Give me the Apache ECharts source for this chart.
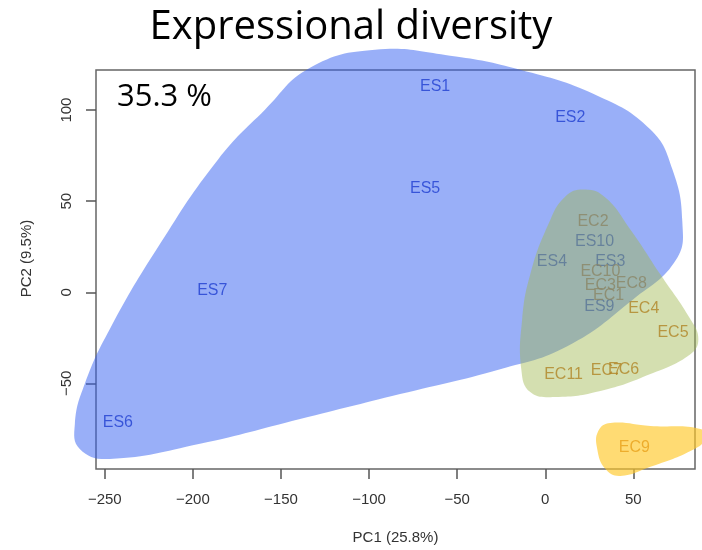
<!DOCTYPE html>
<html>
<head>
<meta charset="utf-8">
<script src="https://cdn.jsdelivr.net/npm/echarts@6/dist/echarts.min.js"></script>
<style>
  html, body { margin: 0; padding: 0; background: #fff; }
  #chart { width: 702px; height: 550px; }
</style>
</head>
<body>
<div id="chart"></div>
<script>
// sample labels and PCA scores
const esNames = ['ES1', 'ES2', 'ES3', 'ES4', 'ES5', 'ES6', 'ES7', 'ES9', 'ES10'];
const esPC1 = [-62.5, 14.2, 36.9, 3.8, -68.2, -242.6, -189, 30.7, 28];
const esPC2 = [113, 95.8, 16.6, 16.6, 57, -71.7, 1, -7.8, 27.8];

const ecNames = ['EC1', 'EC2', 'EC3', 'EC4', 'EC5', 'EC6', 'EC7', 'EC8', 'EC9', 'EC10', 'EC11'];
const ecPC1 = [36, 27.1, 31.3, 55.9, 72.5, 44.5, 34.7, 48.9, 50.6, 31.3, 10.4];
const ecPC2 = [-2, 39, 3.5, -8.9, -22, -42.2, -43.1, 4.9, -85.4, 11.1, -45.3];

// group outlines (smoothed hulls), in PC1/PC2 units
const esHull = [[-96.6, 133.1], [-54, 129.8], [-14.2, 122.1], [28.4, 108.4], [59.7, 89.3],
  [72.2, 67.4], [77.8, 38.9], [74.4, 18.1], [50, -3.8], [12.5, -29.6], [-25.6, -42.2],
  [-82.4, -55.9], [-139.2, -69.6], [-196, -83.2], [-247.2, -91.5], [-264.2, -86],
  [-267, -72.3], [-261.4, -50.4], [-247.2, -20.3], [-218.8, 26.3], [-185.8, 72.8],
  [-159.1, 100.2], [-133.5, 123.2]];
const ecHull = [[22.7, 56.4], [34.1, 52], [48.3, 34.5], [65.3, 9.9], [82.4, -14.8],
  [86.9, -25.7], [82.4, -34], [59.7, -44.9], [31.3, -54.2], [5.7, -57.5], [-8.5, -54.8],
  [-13.6, -42.2], [-13.1, -14.8], [-8.5, 9.9], [1.7, 37.2], [11.4, 52.6]];
const ec9Hull = [[36.9, -71.7], [59.7, -73.4], [88.1, -75], [90.9, -80.5], [82.4, -87.1],
  [59.7, -95.8], [42.6, -100.8], [34.1, -96.9], [29.5, -86], [30.1, -76.1]];

const xTicks = [-250, -200, -150, -100, -50, 0, 50];
const yTicks = [-50, 0, 50, 100];

const labelFont = 'Liberation Sans, Arial, sans-serif';

function hullSeries(points, fill, z) {
  return {
    type: 'custom',
    z: z,
    silent: true,
    data: [points[0]],
    renderItem: (params, api) => ({
      type: 'polygon',
      shape: { points: points.map(p => api.coord(p)), smooth: 0.45 },
      style: { fill: fill }
    })
  };
}

function textSeries(names, xs, ys, color) {
  return {
    type: 'scatter',
    symbolSize: 0,
    z: 1,
    data: names.map((n, i) => [xs[i], ys[i], n]),
    label: {
      show: true,
      position: 'inside',
      formatter: p => p.value[2],
      color: color,
      fontFamily: labelFont,
      fontSize: 16
    }
  };
}

const minus = v => String(v).replace('-', '\u2212');

const chart = echarts.init(document.getElementById('chart'));
chart.setOption({
  animation: false,
  title: {
    text: 'Expressional diversity',
    left: 'center',
    top: 3,
    textStyle: { fontFamily: 'Open Sans, sans-serif', fontSize: 40, fontWeight: 'normal', color: '#000' }
  },
  graphic: [{
    type: 'text',
    left: 117,
    top: 82,
    style: { text: '35.3 %', fontFamily: 'Open Sans, sans-serif', fontSize: 31, fill: '#000' }
  }],
  grid: {
    left: 96, right: 7, top: 70, bottom: 80,
    show: true, borderColor: '#666', borderWidth: 1.5, backgroundColor: 'transparent'
  },
  xAxis: {
    type: 'value',
    min: -255, max: 85,
    name: 'PC1 (25.8%)',
    nameLocation: 'middle',
    nameGap: 61,
    nameTextStyle: { fontFamily: labelFont, fontSize: 15, color: '#333' },
    splitLine: { show: false },
    axisLine: { show: false, onZero: false },
    axisTick: { show: true, inside: false, length: 10, customValues: xTicks, lineStyle: { color: '#555', width: 1.5 } },
    axisLabel: { customValues: xTicks, formatter: minus, margin: 23, fontFamily: labelFont, fontSize: 15, color: '#333' }
  },
  yAxis: {
    type: 'value',
    min: -97, max: 122,
    name: 'PC2 (9.5%)',
    nameLocation: 'middle',
    nameGap: 62,
    nameRotate: 90,
    nameTextStyle: { fontFamily: labelFont, fontSize: 15, color: '#333', padding: [0, 0, 0, 22] },
    splitLine: { show: false },
    axisLine: { show: false, onZero: false },
    axisTick: { show: true, inside: false, length: 10, customValues: yTicks, lineStyle: { color: '#555', width: 1.5 } },
    axisLabel: { customValues: yTicks, formatter: minus, rotate: 90, margin: 22, fontFamily: labelFont, fontSize: 15, color: '#333' }
  },
  series: [
    textSeries(esNames, esPC1, esPC2, '#0a1cb0'),
    textSeries(ecNames, ecPC1, ecPC2, '#be5a00'),
    hullSeries(esHull, 'rgba(52, 95, 242, 0.5)', 2),
    hullSeries(ecHull, 'rgba(160, 185, 80, 0.45)', 3),
    hullSeries(ec9Hull, 'rgba(255, 200, 40, 0.65)', 3)
  ]
});
</script>
</body>
</html>
